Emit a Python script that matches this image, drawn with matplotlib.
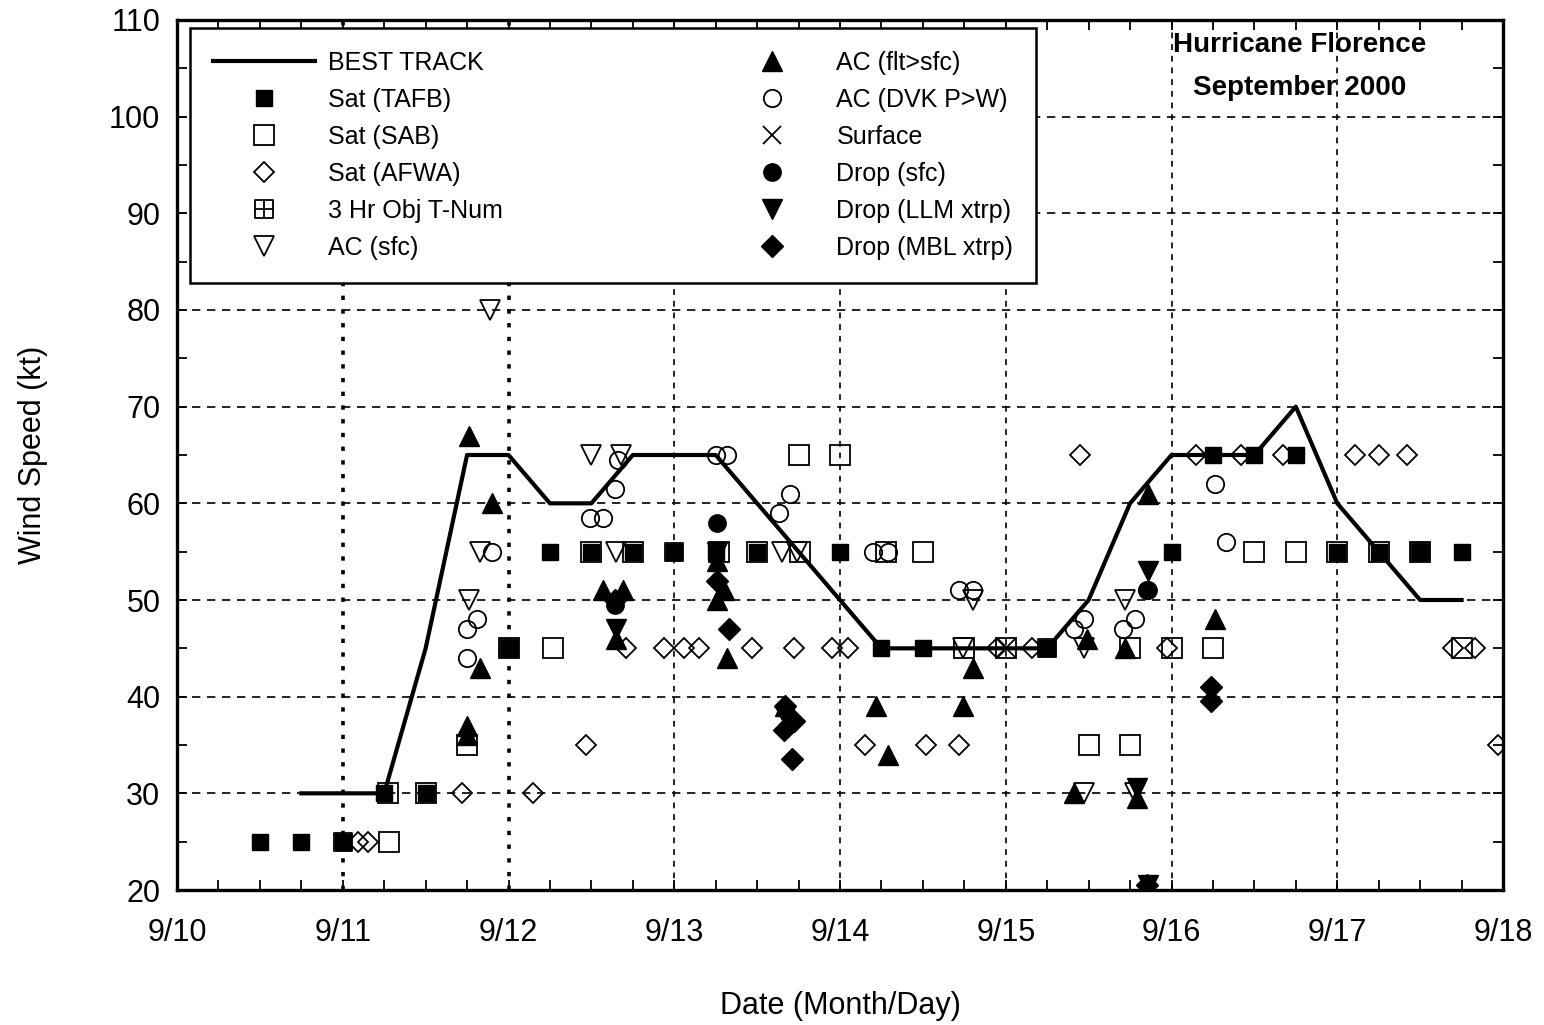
import matplotlib.pyplot as plt
from matplotlib.path import Path
from matplotlib.ticker import MultipleLocator

plt.rcParams['font.family'] = ['Liberation Sans', 'DejaVu Sans']

# times are day of September 2000, fraction of day = hour / 24
day_ticks = [10, 11, 12, 13, 14, 15, 16, 17, 18]
day_labels = ['9/10', '9/11', '9/12', '9/13', '9/14', '9/15', '9/16', '9/17', '9/18']

bt_day = [10.75, 11.0, 11.25, 11.5, 11.75, 12.0, 12.25, 12.5, 12.75, 13.0, 13.25,
          13.5, 13.75, 14.0, 14.25, 14.5, 14.75, 15.0, 15.25, 15.5, 15.75, 16.0,
          16.25, 16.5, 16.75, 17.0, 17.25, 17.5, 17.75]
bt_wind = [30, 30, 30, 45, 65, 65, 60, 60, 65, 65, 65, 60, 55, 50, 45, 45, 45, 45,
           45, 50, 60, 65, 65, 65, 70, 60, 55, 50, 50]

tafb_day = [10.5, 10.75, 11.0, 11.25, 11.5, 12.0, 12.25, 12.5, 12.75, 13.0, 13.25,
            13.5, 14.0, 14.25, 14.5, 15.25, 16.0, 16.25, 16.5, 16.75, 17.0, 17.25,
            17.5, 17.75]
tafb_wind = [25, 25, 25, 30, 30, 45, 55, 55, 55, 55, 55, 55, 55, 45, 45, 45, 55, 65,
             65, 65, 55, 55, 55, 55]

sab_day = [11.28, 11.27, 11.5, 11.75, 12.0, 12.27, 12.5, 12.75, 13.27, 13.5, 13.75,
           13.76, 14.0, 14.28, 14.5, 14.75, 15.0, 15.5, 15.75, 15.75, 16.0, 16.25,
           16.5, 16.75, 17.0, 17.25, 17.5, 17.75]
sab_wind = [25, 30, 30, 35, 45, 45, 55, 55, 55, 55, 65, 55, 65, 55, 55, 45, 45, 35,
            35, 45, 45, 45, 55, 55, 55, 55, 55, 45]

afwa_day = [11.09, 11.15, 11.72, 12.15, 12.47, 12.71, 12.94, 13.06, 13.15, 13.47,
            13.72, 13.95, 14.05, 14.15, 14.52, 14.72, 14.95, 15.16, 15.45, 15.97,
            16.15, 16.42, 16.67, 17.11, 17.25, 17.42, 17.7, 17.83, 17.97]
afwa_wind = [25, 25, 30, 30, 35, 45, 45, 45, 45, 45, 45, 45, 45, 35, 35, 35, 45, 45,
             65, 45, 65, 65, 65, 65, 65, 65, 45, 45, 35]

tnum_day = [11.0, 12.0, 13.0, 15.25, 17.5]
tnum_wind = [25, 45, 55, 45, 55]

acsfc_day = [11.76, 11.83, 11.89, 12.5, 12.65, 12.68, 13.65, 13.74, 14.74, 14.8,
             15.47, 15.47, 15.72, 15.78]
acsfc_wind = [50, 55, 80, 65, 55, 65, 55, 55, 45, 50, 45, 30, 50, 30]

acflt_day = [11.75, 11.75, 11.76, 11.83, 11.9, 12.57, 12.65, 12.69, 13.26, 13.26,
             13.3, 13.32, 13.67, 14.22, 14.29, 14.74, 14.8, 15.41, 15.49, 15.72,
             15.79, 15.86, 16.26]
acflt_wind = [37, 36, 67, 43, 60, 51, 46, 51, 54, 50, 51, 44, 39, 39, 34, 39, 43, 30,
              46, 45, 29.5, 61, 48]

dvk_day = [11.75, 11.75, 11.81, 11.9, 12.49, 12.57, 12.64, 12.66, 13.25, 13.32,
           13.63, 13.7, 14.2, 14.29, 14.72, 14.8, 15.41, 15.47, 15.71, 15.78, 15.85,
           16.26, 16.33]
dvk_wind = [44, 47, 48, 55, 58.5, 58.5, 61.5, 64.5, 65, 65, 59, 61, 55, 55, 51, 51,
            47, 48, 47, 48, 51, 62, 56]

sfc_day = [15.0]
sfc_wind = [45]

dsfc_day = [12.64, 13.26, 15.86]
dsfc_wind = [49.5, 58, 51]

llm_day = [12.65, 13.26, 13.67, 15.79, 15.86, 15.86]
llm_wind = [47, 55, 38, 30.5, 53, 20.5]

mbl_day = [12.64, 13.26, 13.33, 13.66, 13.67, 13.72, 13.71, 15.85, 16.24, 16.24]
mbl_wind = [50, 52, 47, 36.5, 39, 37.5, 33.5, 20.5, 41, 39.5]

# square with a cross inside for the objective T-number
box_cross = Path([(-1, -1), (1, -1), (1, 1), (-1, 1), (-1, -1), (0, -1), (0, 1),
                  (-1, 0), (1, 0)],
                 [Path.MOVETO, Path.LINETO, Path.LINETO, Path.LINETO, Path.CLOSEPOLY,
                  Path.MOVETO, Path.LINETO, Path.MOVETO, Path.LINETO])

fig = plt.figure(figsize=(15.44, 10.25), dpi=100)
ax = fig.add_axes([177 / 1544, 1 - 890 / 1025, 1326 / 1544, 870 / 1025])

# grid
for d in day_ticks[1:-1]:
    if d in (11, 12):
        ax.axvline(d, color='k', lw=2.6, ls=(0, (1.2, 2.6)), zorder=0)
    else:
        ax.axvline(d, color='k', lw=1.2, ls=(0, (3.5, 3.5)), zorder=0)
ax.grid(axis='y', color='k', lw=1.2, ls=(0, (5, 4)), zorder=0)

ax.plot(bt_day, bt_wind, color='k', lw=3, label='BEST TRACK', zorder=3)

mk = dict(ls='none', color='k', mec='k')
ax.plot(tafb_day, tafb_wind, marker='s', ms=12, label='Sat (TAFB)', **mk)
ax.plot(sab_day, sab_wind, marker='s', ms=14, mfc='none', mew=1.3,
        label='Sat (SAB)', **mk)
ax.plot(afwa_day, afwa_wind, marker='D', ms=10.5, mfc='none', mew=1.3,
        label='Sat (AFWA)', **mk)
ax.plot(tnum_day, tnum_wind, marker=box_cross, ms=13, mfc='none', mew=1.3,
        label='3 Hr Obj T-Num', **mk)
ax.plot(acsfc_day, acsfc_wind, marker='v', ms=15, mfc='none', mew=1.3,
        label='AC (sfc)', **mk)
ax.plot(acflt_day, acflt_wind, marker='^', ms=14.5, label='AC (flt>sfc)', **mk)
ax.plot(dvk_day, dvk_wind, marker='o', ms=12.5, mfc='none', mew=1.3,
        label='AC (DVK P>W)', **mk)
ax.plot(sfc_day, sfc_wind, marker='x', ms=13, mew=1.3, label='Surface', **mk)
ax.plot(dsfc_day, dsfc_wind, marker='o', ms=12.5, label='Drop (sfc)', **mk)
ax.plot(llm_day, llm_wind, marker='v', ms=14.5, label='Drop (LLM xtrp)', **mk)
ax.plot(mbl_day, mbl_wind, marker='D', ms=11, label='Drop (MBL xtrp)', **mk)

ax.set_xlim(10, 18)
ax.set_ylim(20, 110)
ax.set_xticks(day_ticks)
ax.set_xticklabels(day_labels)
ax.xaxis.set_minor_locator(MultipleLocator(0.25))
ax.yaxis.set_major_locator(MultipleLocator(10))
ax.yaxis.set_minor_locator(MultipleLocator(5))
ax.tick_params(which='both', direction='in', top=True, right=True, length=7,
               width=1.3, labelsize=22)
ax.tick_params(axis='x', pad=20)
ax.tick_params(axis='y', pad=12)
for s in ax.spines.values():
    s.set_linewidth(2.4)

ax.set_xlabel('Date (Month/Day)', fontsize=22, labelpad=31)
ax.set_ylabel('Wind Speed (kt)', fontsize=22, labelpad=44)

leg = ax.legend(loc='upper left', bbox_to_anchor=(0.0098, 0.9908), ncol=2,
                fontsize=18, numpoints=1, handlelength=4.1, handletextpad=0.52,
                borderpad=0.92, labelspacing=0.52, columnspacing=8.7,
                borderaxespad=0, fancybox=False, framealpha=1, edgecolor='k')
leg.get_frame().set_linewidth(1.8)

ax.text(0.847, 0.971, 'Hurricane Florence', transform=ax.transAxes, ha='center',
        va='center', fontsize=20, fontweight='bold')
ax.text(0.847, 0.922, 'September 2000', transform=ax.transAxes, ha='center',
        va='center', fontsize=20, fontweight='bold')

fig.savefig('out.png', dpi=100)
